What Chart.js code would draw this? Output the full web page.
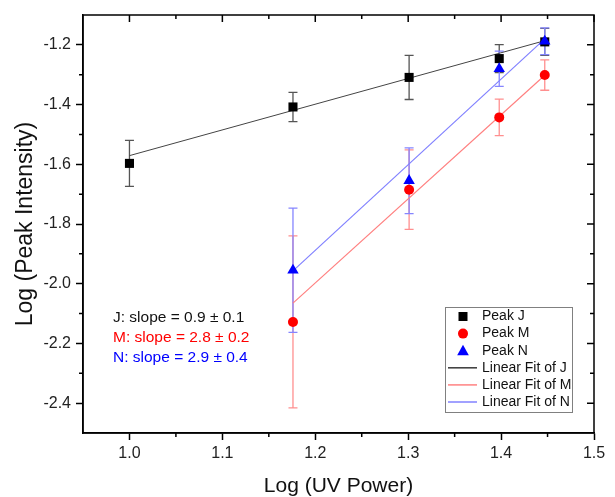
<!DOCTYPE html>
<html>
<head>
<meta charset="utf-8">
<script src="https://cdn.jsdelivr.net/npm/chart.js@4"></script>
<style>
  body { margin: 0; background: #fff; }
  canvas { display: block; }
</style>
</head>
<body>
<canvas id="uvChart" width="615" height="497"></canvas>
<script>
// Log(UV power) positions
const xJ = [1.0, 1.176, 1.301, 1.398, 1.447];
const xMN = [1.176, 1.301, 1.398, 1.447];

// Log(peak intensity) and error bars
const peakJ = [-1.597, -1.408, -1.309, -1.246, -1.19];
const errJ = [0.077, 0.049, 0.074, 0.047, 0.045];
const peakM = [-2.128, -1.685, -1.443, -1.301];
const errM = [0.288, 0.133, 0.061, 0.051];
const peakN = [-1.955, -1.655, -1.28, -1.188];
const errN = [0.208, 0.11, 0.059, 0.045];

// linear fit end points
const fitJx = [1.0, 1.447];
const fitJ = [-1.571, -1.186];
const fitMx = [1.176, 1.447];
const fitM = [-2.065, -1.302];
const fitNx = [1.176, 1.447];
const fitN = [-1.957, -1.18];

// ticks
const xTicks = [1.0, 1.1, 1.2, 1.3, 1.4, 1.5];
const xMinor = [1.05, 1.15, 1.25, 1.35, 1.45];
const yTicks = [-2.4, -2.2, -2.0, -1.8, -1.6, -1.4, -1.2];
const yMinor = [-2.3, -2.1, -1.9, -1.7, -1.5, -1.3];

const slopeNotes = ['J: slope = 0.9 ± 0.1', 'M: slope = 2.8 ± 0.2', 'N: slope = 2.9 ± 0.4'];
const legendLabels = ['Peak J', 'Peak M', 'Peak N', 'Linear Fit of J', 'Linear Fit of M', 'Linear Fit of N'];

const FONT = 'Arial, "Liberation Sans", sans-serif';
const toXY = (xs, ys) => xs.map((x, i) => ({ x: x, y: ys[i] }));

// vertical error bars with caps, drawn under the markers
const errorBars = {
  id: 'errorBars',
  beforeDatasetsDraw(chart) {
    const ctx = chart.ctx;
    const ys = chart.scales.y;
    chart.data.datasets.forEach((ds, i) => {
      if (!ds.errors) return;
      const meta = chart.getDatasetMeta(i);
      ctx.save();
      ctx.strokeStyle = ds.errorColor;
      ctx.lineWidth = 1.3;
      meta.data.forEach((pt, j) => {
        const top = ys.getPixelForValue(ds.data[j].y + ds.errors[j]);
        const bot = ys.getPixelForValue(ds.data[j].y - ds.errors[j]);
        ctx.beginPath();
        ctx.moveTo(pt.x, top); ctx.lineTo(pt.x, bot);
        ctx.moveTo(pt.x - 4.5, top); ctx.lineTo(pt.x + 4.5, top);
        ctx.moveTo(pt.x - 4.5, bot); ctx.lineTo(pt.x + 4.5, bot);
        ctx.stroke();
      });
      ctx.restore();
    });
  }
};

function marker(ctx, style, x, y, color) {
  ctx.fillStyle = color;
  ctx.beginPath();
  if (style === 'rect') {
    ctx.rect(x - 4.5, y - 4.5, 9, 9);
  } else if (style === 'circle') {
    ctx.arc(x, y, 5, 0, Math.PI * 2);
  } else {
    ctx.moveTo(x, y - 6); ctx.lineTo(x + 5.8, y + 4.5); ctx.lineTo(x - 5.8, y + 4.5);
    ctx.closePath();
  }
  ctx.fill();
}

// closed frame, minor ticks, mirrored ticks, slope notes and legend box
const decorations = {
  id: 'decorations',
  afterDraw(chart) {
    const ctx = chart.ctx;
    const { left, right, top, bottom } = chart.chartArea;
    const xs = chart.scales.x, ys = chart.scales.y;
    ctx.save();
    ctx.strokeStyle = '#000';
    ctx.lineWidth = 1.5;
    ctx.strokeRect(left, top, right - left, bottom - top);
    ctx.beginPath();
    xTicks.forEach(v => {
      const px = xs.getPixelForValue(v);
      ctx.moveTo(px, top); ctx.lineTo(px, top + 7);
    });
    xMinor.forEach(v => {
      const px = xs.getPixelForValue(v);
      ctx.moveTo(px, top); ctx.lineTo(px, top + 4);
      ctx.moveTo(px, bottom); ctx.lineTo(px, bottom + 4);
    });
    yTicks.forEach(v => {
      const py = ys.getPixelForValue(v);
      ctx.moveTo(right, py); ctx.lineTo(right - 7, py);
    });
    yMinor.forEach(v => {
      const py = ys.getPixelForValue(v);
      ctx.moveTo(right, py); ctx.lineTo(right - 4, py);
      ctx.moveTo(left, py); ctx.lineTo(left - 4, py);
    });
    ctx.stroke();

    // slope notes
    ctx.font = '15.5px ' + FONT;
    ctx.textBaseline = 'middle';
    const noteColors = ['#111', '#ff0000', '#0000ff'];
    slopeNotes.forEach((t, i) => {
      ctx.fillStyle = noteColors[i];
      ctx.fillText(t, left + 30, bottom - 115 + i * 20);
    });

    // legend
    const bx = right - 149, by = bottom - 126, bw = 127, bh = 105;
    ctx.fillStyle = '#fff';
    ctx.fillRect(bx, by, bw, bh);
    ctx.strokeStyle = '#808080';
    ctx.lineWidth = 1;
    ctx.strokeRect(bx + 0.5, by + 0.5, bw, bh);
    ctx.font = '14px ' + FONT;
    const styles = ['rect', 'circle', 'triangle'];
    const colors = ['#000', '#ff0000', '#0000ff'];
    const lineColors = ['#444', '#ff8a8a', '#8a8aff'];
    legendLabels.forEach((t, i) => {
      const cy = by + 9.5 + i * 17.1;
      if (i < 3) {
        marker(ctx, styles[i], bx + 18, cy, colors[i]);
      } else {
        ctx.strokeStyle = lineColors[i - 3];
        ctx.lineWidth = 1.6;
        ctx.beginPath();
        ctx.moveTo(bx + 3, cy); ctx.lineTo(bx + 32, cy);
        ctx.stroke();
      }
      ctx.fillStyle = '#111';
      ctx.fillText(t, bx + 37, cy);
    });
    ctx.restore();
  }
};

new Chart(document.getElementById('uvChart'), {
  type: 'scatter',
  data: {
    datasets: [
      { label: 'Peak J', data: toXY(xJ, peakJ), errors: errJ, errorColor: '#555',
        pointStyle: 'rect', pointRadius: 6.4, backgroundColor: '#000', borderWidth: 0, order: 3 },
      { label: 'Peak M', data: toXY(xMN, peakM), errors: errM, errorColor: '#ff8f8f',
        pointStyle: 'circle', pointRadius: 5, backgroundColor: '#ff0000', borderWidth: 0, order: 2 },
      { label: 'Peak N', data: toXY(xMN, peakN), errors: errN, errorColor: '#8585ff',
        pointStyle: 'triangle', pointRadius: 6.6, backgroundColor: '#0000ff', borderWidth: 0, order: 1 },
      { label: 'Linear Fit of J', data: toXY(fitJx, fitJ), showLine: true, pointRadius: 0,
        borderColor: '#444', borderWidth: 1, order: 10 },
      { label: 'Linear Fit of M', data: toXY(fitMx, fitM), showLine: true, pointRadius: 0,
        borderColor: '#ff8080', borderWidth: 1.2, order: 10 },
      { label: 'Linear Fit of N', data: toXY(fitNx, fitN), showLine: true, pointRadius: 0,
        borderColor: '#8080ff', borderWidth: 1.2, order: 10 }
    ]
  },
  options: {
    responsive: false,
    animation: false,
    layout: { padding: { top: 15, right: 21, left: 0, bottom: 0 } },
    plugins: {
      legend: { display: false },
      tooltip: { enabled: false }
    },
    scales: {
      x: {
        type: 'linear',
        min: 0.95,
        max: 1.5,
        afterBuildTicks: s => { s.ticks = xTicks.map(v => ({ value: v })); },
        afterFit: s => { s.height = 64; },
        ticks: { font: { family: FONT, size: 16 }, color: '#222', padding: 4,
                 callback: v => v.toFixed(1) },
        grid: { drawOnChartArea: false, drawTicks: true, tickLength: 7, tickColor: '#000', tickWidth: 1.5 },
        border: { display: true, color: '#000', width: 1.5 },
        title: { display: true, text: 'Log (UV Power)', color: '#111',
                 font: { family: FONT, size: 21, lineHeight: 1 }, padding: { top: 0, bottom: 0 } }
      },
      y: {
        type: 'linear',
        min: -2.5,
        max: -1.1,
        afterBuildTicks: s => { s.ticks = yTicks.map(v => ({ value: v })); },
        afterFit: s => { s.width = 83; },
        ticks: { font: { family: FONT, size: 16 }, color: '#222', padding: 5,
                 callback: v => v.toFixed(1) },
        grid: { drawOnChartArea: false, drawTicks: true, tickLength: 7, tickColor: '#000', tickWidth: 1.5 },
        border: { display: true, color: '#000', width: 1.5 },
        title: { display: true, text: 'Log (Peak Intensity)', color: '#111',
                 font: { family: FONT, size: 23, lineHeight: 1 }, padding: { top: 14, bottom: 0 } }
      }
    }
  },
  plugins: [errorBars, decorations]
});
</script>
</body>
</html>
